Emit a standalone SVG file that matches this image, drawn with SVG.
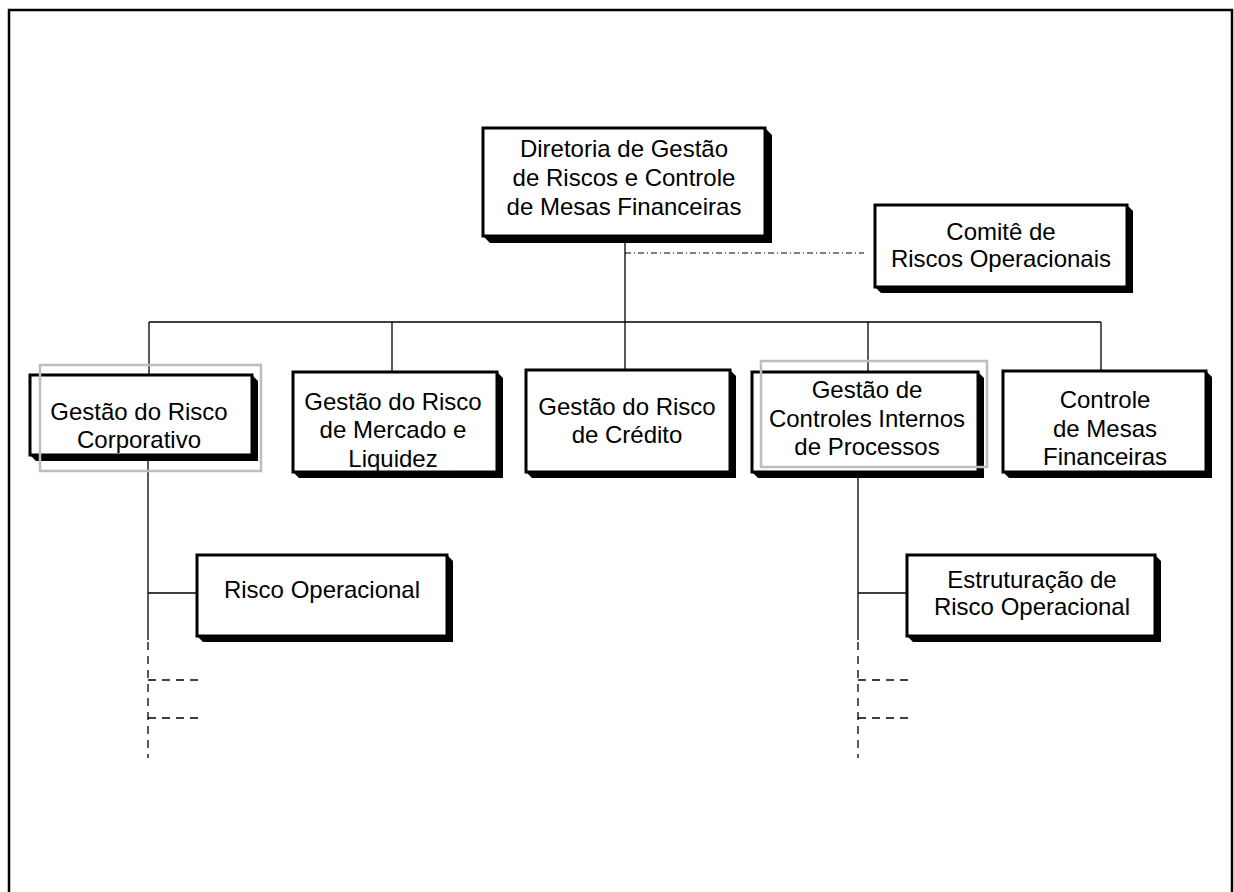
<svg xmlns="http://www.w3.org/2000/svg" width="1234" height="892" viewBox="0 0 1234 892">
<style>
.box{fill:#fff;stroke:#000;stroke-width:3}
.sh{fill:#000}
.gray{fill:none;stroke:#bdbdbd;stroke-width:2.5}
.t{font-family:"Liberation Sans",Arial,sans-serif;font-size:24px;fill:#000;text-anchor:middle}
.ln{stroke:#000;stroke-width:1.3;fill:none}
.dash{stroke:#000;stroke-width:1.3;fill:none;stroke-dasharray:8,6}
.dd{stroke:#000;stroke-width:1;fill:none;stroke-dasharray:6,3,1,3}
</style>
<rect width="1234" height="892" fill="#fff"/>
<path d="M9,892 V10 H1232 V892" fill="none" stroke="#000" stroke-width="2.5"/>
<g id="connectors">
<line class="ln" x1="625" y1="238" x2="625" y2="322"/>
<line class="dd" x1="625" y1="253" x2="864" y2="253"/>
<line class="ln" x1="149" y1="322" x2="1101" y2="322"/>
<line class="ln" x1="149" y1="322" x2="149" y2="375"/>
<line class="ln" x1="392" y1="322" x2="392" y2="372"/>
<line class="ln" x1="625" y1="322" x2="625" y2="370"/>
<line class="ln" x1="868" y1="322" x2="868" y2="372"/>
<line class="ln" x1="1101" y1="322" x2="1101" y2="371"/>
<line class="ln" x1="148" y1="460" x2="148" y2="640"/>
<line class="ln" x1="148" y1="593" x2="197" y2="593"/>
<line class="dash" x1="148" y1="642" x2="148" y2="758"/>
<line class="dash" x1="148" y1="680" x2="198" y2="680"/>
<line class="dash" x1="148" y1="718" x2="198" y2="718"/>
<line class="ln" x1="858" y1="478" x2="858" y2="640"/>
<line class="ln" x1="858" y1="593" x2="907" y2="593"/>
<line class="dash" x1="858" y1="642" x2="858" y2="758"/>
<line class="dash" x1="858" y1="680" x2="908" y2="680"/>
<line class="dash" x1="858" y1="718" x2="908" y2="718"/>
</g>
<g id="diretoria">
<path class="sh" d="M765,128 L772,135 V243 H490 L483,236 Z"/>
<rect class="box" x="483" y="128" width="282" height="108"/>
<text class="t" x="624" y="157">Diretoria de Gestão</text>
<text class="t" x="624" y="186">de Riscos e Controle</text>
<text class="t" x="624" y="215">de Mesas Financeiras</text>
</g>
<g id="comite">
<path class="sh" d="M1127,205 L1133,211 V293 H881 L875,287 Z"/>
<rect class="box" x="875" y="205" width="252" height="82"/>
<text class="t" x="1001" y="240">Comitê de</text>
<text class="t" x="1001" y="267">Riscos Operacionais</text>
</g>
<g id="corporativo">
<path class="sh" d="M252,375 L258,381 V461 H36 L30,455 Z"/>
<rect class="box" x="30" y="375" width="222" height="80"/>
<rect class="gray" x="40" y="365" width="221" height="106"/>
<text class="t" x="139" y="420">Gestão do Risco</text>
<text class="t" x="139" y="448">Corporativo</text>
</g>
<g id="mercado">
<path class="sh" d="M497,372 L503,378 V478 H299 L293,472 Z"/>
<rect class="box" x="293" y="372" width="204" height="100"/>
<text class="t" x="393" y="410">Gestão do Risco</text>
<text class="t" x="393" y="438">de Mercado e</text>
<text class="t" x="393" y="467">Liquidez</text>
</g>
<g id="credito">
<path class="sh" d="M730,370 L736,376 V478 H532 L526,472 Z"/>
<rect class="box" x="526" y="370" width="204" height="102"/>
<text class="t" x="627" y="415">Gestão do Risco</text>
<text class="t" x="627" y="443">de Crédito</text>
</g>
<g id="controles">
<path class="sh" d="M978,372 L984,378 V478 H758 L752,472 Z"/>
<rect class="box" x="752" y="372" width="226" height="100"/>
<rect class="gray" x="761" y="361" width="226" height="106"/>
<text class="t" x="867" y="398">Gestão de</text>
<text class="t" x="867" y="427">Controles Internos</text>
<text class="t" x="867" y="455">de Processos</text>
</g>
<g id="mesas">
<path class="sh" d="M1206,371 L1212,377 V478 H1009 L1003,472 Z"/>
<rect class="box" x="1003" y="371" width="203" height="101"/>
<text class="t" x="1105" y="408">Controle</text>
<text class="t" x="1105" y="437">de Mesas</text>
<text class="t" x="1105" y="465">Financeiras</text>
</g>
<g id="risco-operacional">
<path class="sh" d="M447,555 L453,561 V642 H203 L197,636 Z"/>
<rect class="box" x="197" y="555" width="250" height="81"/>
<text class="t" x="322" y="598">Risco Operacional</text>
</g>
<g id="estruturacao">
<path class="sh" d="M1155,555 L1161,561 V642 H913 L907,636 Z"/>
<rect class="box" x="907" y="555" width="248" height="81"/>
<text class="t" x="1032" y="588">Estruturação de</text>
<text class="t" x="1032" y="615">Risco Operacional</text>
</g>
</svg>
